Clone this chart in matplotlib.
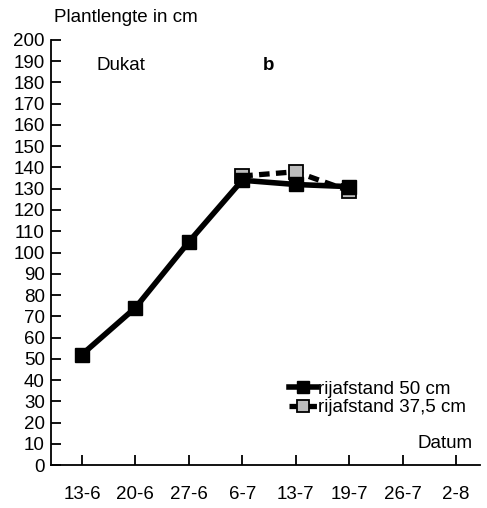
import numpy as np
import matplotlib
matplotlib.use("Agg")
import matplotlib.pyplot as plt

plt.rcParams['font.family'] = ['Liberation Sans', 'DejaVu Sans']

# data
datums = ['13-6', '20-6', '27-6', '6-7', '13-7', '19-7', '26-7', '2-8']
rij_50 = [52, 74, 105, 134, 132, 131]
rij_375 = [np.nan, np.nan, np.nan, 136, 138, 129]
yticks = list(range(0, 201, 10))

fs = 13.5

fig = plt.figure(figsize=(4.87, 5.08), dpi=100)
ax = fig.add_axes([0.1047, 0.0846, 0.8809, 0.8367])

x = np.arange(len(datums))

# 37,5 cm first so the 50 cm line lies on top
ax.plot(x[:len(rij_375)], rij_375, color='black', lw=3.8, ls=(0, (2.0, 1.2)),
        marker='s', ms=10, mfc='#bdbdbd', mec='black', mew=1.3,
        label='rijafstand 37,5 cm', zorder=3)
ax.plot(x[:len(rij_50)], rij_50, color='black', lw=4.0, ls='-',
        marker='s', ms=10, mfc='black', mec='black',
        label='rijafstand 50 cm', zorder=4)

ax.set_xlim(-0.58, 7.45)
ax.set_ylim(0, 200)
ax.set_xticks(x)
ax.set_xticklabels(datums)
ax.set_yticks(yticks)

for s in ['top', 'right']:
    ax.spines[s].set_visible(False)
for s in ['left', 'bottom']:
    ax.spines[s].set_linewidth(1.3)

ax.tick_params(axis='y', direction='in', length=7, width=1.3, pad=4.5, labelsize=fs)
ax.tick_params(axis='x', direction='in', length=7, width=1.3, pad=15, labelsize=fs)

handles, labels = ax.get_legend_handles_labels()
leg = ax.legend(handles[::-1], labels[::-1], loc='upper left', bbox_to_anchor=(0.555, 0.198),
                frameon=False, handlelength=1.5, handletextpad=0.05, labelspacing=0.07,
                fontsize=fs, borderaxespad=0, borderpad=0, markerscale=0.9)

ax.text(0.984, 0.05, 'Datum', transform=ax.transAxes, ha='right', va='center', fontsize=fs)
ax.text(0.107, 0.939, 'Dukat', transform=ax.transAxes, ha='left', va='center', fontsize=fs)
ax.text(0.506, 0.939, 'b', transform=ax.transAxes, ha='center', va='center',
        fontsize=fs, fontweight='bold')
fig.text(0.11, 0.9665, 'Plantlengte in cm', ha='left', va='center', fontsize=fs)

fig.savefig('out.png', dpi=100)
